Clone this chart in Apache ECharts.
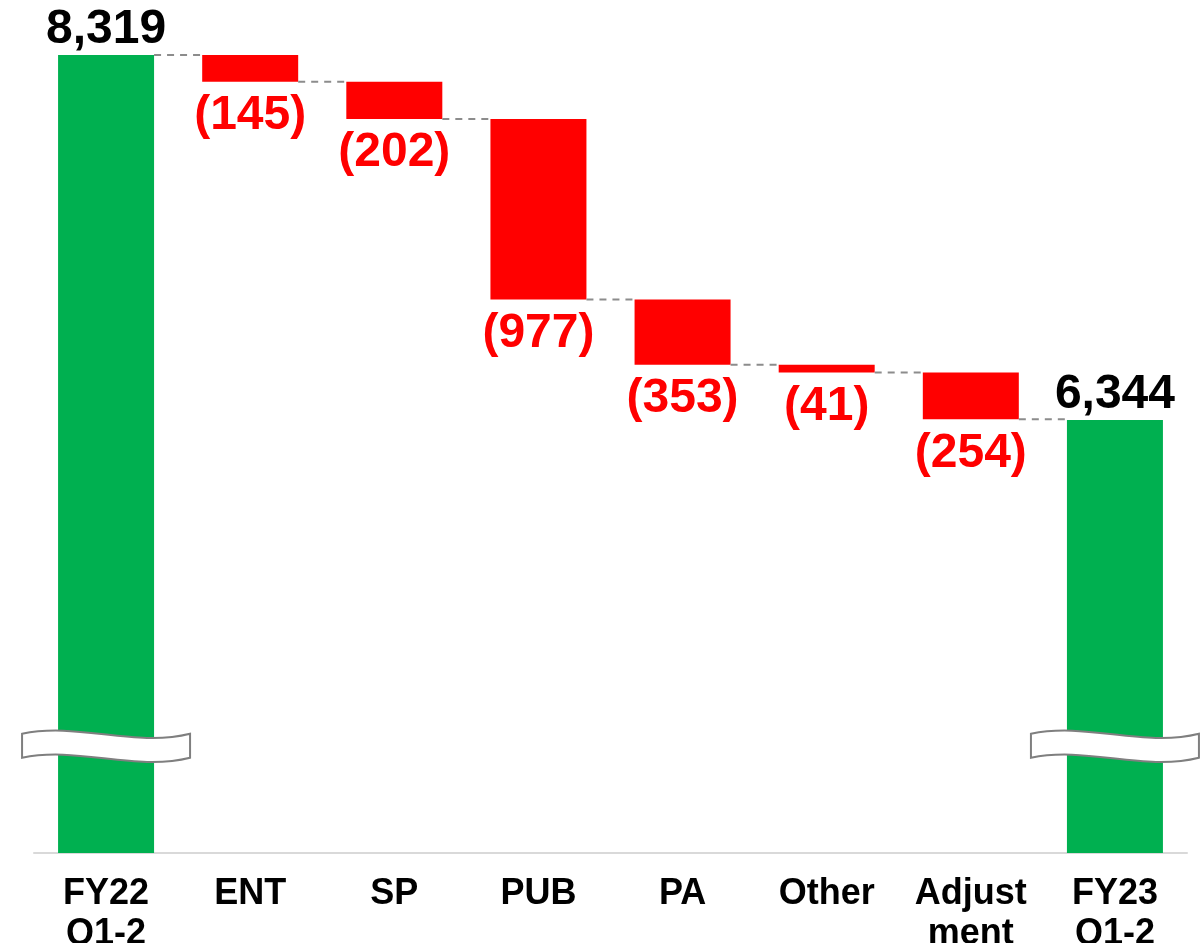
<!DOCTYPE html>
<html>
<head>
<meta charset="utf-8">
<script src="https://cdn.jsdelivr.net/npm/echarts@6/dist/echarts.min.js"></script>
<style>
  html, body { margin: 0; padding: 0; background: #fff; }
  #chart { width: 1201px; height: 943px; }
</style>
</head>
<body>
<div id="chart"></div>
<script>
// Bridge from FY22 Q1-2 to FY23 Q1-2
const categories = ['FY22\nQ1-2', 'ENT', 'SP', 'PUB', 'PA', 'Other', 'Adjust\nment', 'FY23\nQ1-2'];
const startTotal = 8319;
const changes = [-145, -202, -977, -353, -41, -254];
const endTotal = 6344;

// axis range (value axis is broken, starting above zero)
const axisMin = 4000;
const axisMax = 8500;
const breakAt = 4580; // value level where the break symbol sits

// running totals for the floating bars
const totals = [];
const helper = [];
const drops = [];
const levels = []; // level each connector runs at
let running = startTotal;
totals.push(startTotal); helper.push('-'); drops.push('-');
levels.push(startTotal);
changes.forEach(function (c) {
  const next = running + c;
  totals.push('-');
  helper.push(Math.min(running, next));
  drops.push(Math.abs(c));
  running = next;
  levels.push(running);
});
totals.push(endTotal); helper.push('-'); drops.push('-');

const connectorData = levels.map(function (v, i) { return [i, v]; });
const breakData = [[0, breakAt], [categories.length - 1, breakAt]];

const FONT = "'Liberation Sans', Arial, sans-serif";
const BAR_W = 96;

const chart = echarts.init(document.getElementById('chart'), null, { renderer: 'canvas' });

chart.setOption({
  animation: false,
  backgroundColor: '#ffffff',
  grid: { left: 34, right: 14, top: 21.5, bottom: 90, containLabel: false, outerBoundsMode: 'none' },
  xAxis: {
    type: 'category',
    data: categories,
    axisLine: { show: true, lineStyle: { color: '#d9d9d9', width: 2 } },
    axisTick: { show: false },
    axisLabel: {
      interval: 0,
      margin: 21,
      color: '#000',
      fontFamily: FONT,
      fontWeight: 'bold',
      fontSize: 36,
      lineHeight: 40
    }
  },
  yAxis: {
    type: 'value',
    min: axisMin,
    max: axisMax,
    show: false,
    splitLine: { show: false }
  },
  series: [
    {
      name: 'helper',
      type: 'bar',
      stack: 'wf',
      barWidth: BAR_W,
      itemStyle: { color: 'transparent' },
      emphasis: { disabled: true },
      data: helper,
      z: 1
    },
    {
      name: 'Total',
      type: 'bar',
      stack: 'wf',
      barWidth: BAR_W,
      itemStyle: { color: '#00B050' },
      label: {
        show: true,
        position: 'top',
        distance: 1,
        color: '#000',
        fontFamily: FONT,
        fontWeight: 'bold',
        fontSize: 48,
        formatter: function (p) { return p.value.toLocaleString('en-US'); }
      },
      data: totals,
      z: 2
    },
    {
      name: 'Change',
      type: 'bar',
      stack: 'wf',
      barWidth: BAR_W,
      itemStyle: { color: '#FF0000' },
      label: {
        show: true,
        position: 'bottom',
        distance: 10,
        color: '#FF0000',
        fontFamily: FONT,
        fontWeight: 'bold',
        fontSize: 48,
        formatter: function (p) { return '(' + p.value + ')'; }
      },
      data: drops,
      z: 2
    },
    {
      // dashed connectors between neighbouring bars
      name: 'connector',
      type: 'custom',
      silent: true,
      z: 3,
      data: connectorData,
      renderItem: function (params, api) {
        const i = api.value(0);
        if (i >= categories.length - 1) return null;
        const a = api.coord([i, api.value(1)]);
        const b = api.coord([i + 1, api.value(1)]);
        return {
          type: 'line',
          shape: { x1: a[0] + BAR_W / 2, y1: a[1], x2: b[0] - BAR_W / 2, y2: a[1] },
          style: { stroke: '#8c8c8c', lineWidth: 2, lineDash: [7, 6] }
        };
      }
    },
    {
      // axis-break symbols across the total bars
      name: 'break',
      type: 'custom',
      silent: true,
      z: 4,
      clip: false,
      data: breakData,
      renderItem: function (params, api) {
        const p = api.coord([api.value(0), api.value(1)]);
        const x = p[0], y = p[1];
        const path =
          'M' + (x - 84) + ' ' + (y - 12) +
          ' C' + (x - 28) + ' ' + (y - 24) + ' ' + (x + 28) + ' ' + (y + 2) + ' ' + (x + 84) + ' ' + (y - 12) +
          ' L' + (x + 84) + ' ' + (y + 12) +
          ' C' + (x + 28) + ' ' + (y + 26) + ' ' + (x - 28) + ' ' + (y) + ' ' + (x - 84) + ' ' + (y + 12) +
          ' Z';
        return {
          type: 'path',
          shape: { pathData: path },
          style: { fill: '#ffffff', stroke: '#7f7f7f', lineWidth: 2 }
        };
      }
    }
  ]
});
</script>
</body>
</html>
